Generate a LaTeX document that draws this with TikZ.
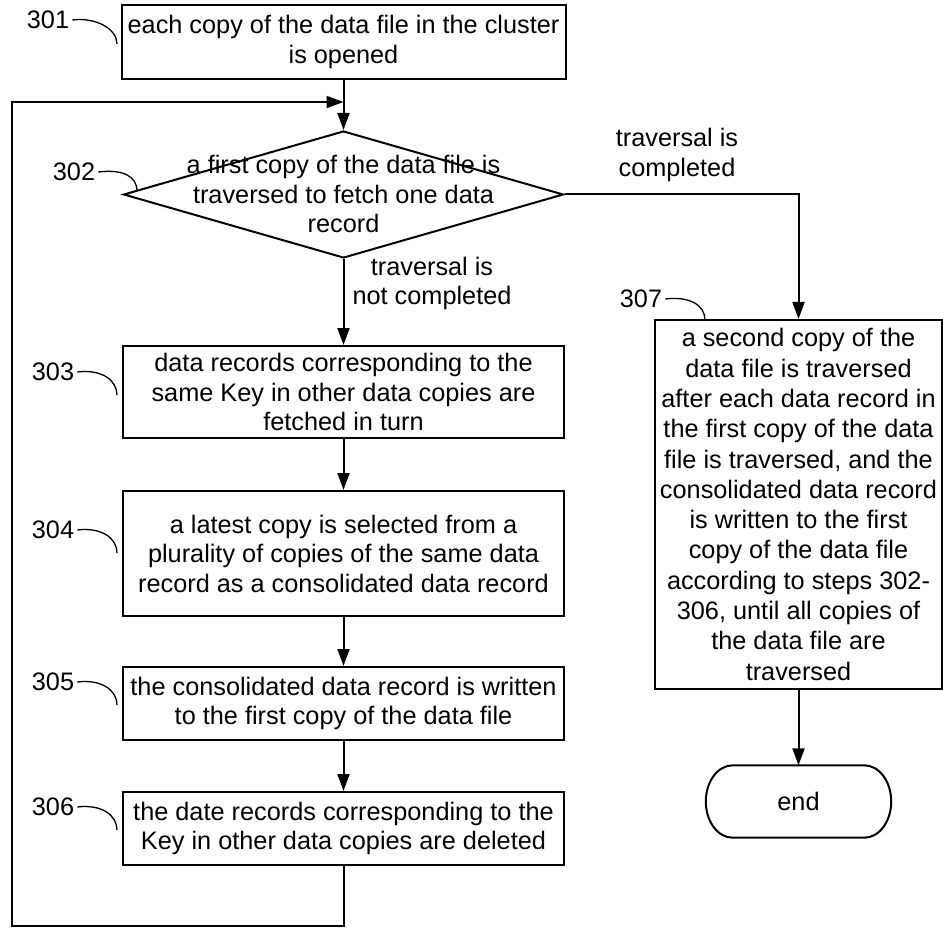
\documentclass[tikz,border=0pt]{standalone}
\usepackage{fontspec}
\setmainfont{Liberation Sans}
\usetikzlibrary{arrows.meta,shapes.geometric}
\begin{document}
\begin{tikzpicture}[x=1pt,y=-1pt,
  every node/.style={font=\fontsize{25.3}{29.5}\selectfont, align=center, inner sep=0pt},
  box/.style={draw, line width=2pt, minimum width=441pt},
  conn/.style={line width=2pt, -{Triangle[length=17pt,width=12pt]}},
  curl/.style={line width=1.3pt}]
\useasboundingbox (0,0) rectangle (943,928);

% process boxes
\node[box, minimum width=444pt, minimum height=74pt] (n301) at (343.5,42)
  {each copy of the data file in the cluster\\is opened};
\node[diamond, draw, line width=2pt, minimum width=440pt, minimum height=127pt] (n302) at (343.5,194.5) {};
\node (t302) at (343.5,194) {a first copy of the data file is\\traversed to fetch one data\\record};
\node[box, minimum height=92pt] (n303) at (343.5,392)
  {data records corresponding to the\\same Key in other data copies are\\fetched in turn};
\node[box, minimum height=125pt] (n304) at (343.5,553.5)
  {a latest copy is selected from a\\plurality of copies of the same data\\record as a consolidated data record};
\node[box, minimum height=73pt] (n305) at (343.5,703.5)
  {the consolidated data record is written\\to the first copy of the data file};
\node[box, minimum height=73pt] (n306) at (343.5,828.5)
  {the date records corresponding to the\\Key in other data copies are deleted};
\node[box, minimum width=287pt, minimum height=369pt, font=\fontsize{25.3}{30.3}\selectfont] (n307) at (798.5,504.5)
  {a second copy of the\\data file is traversed\\after each data record in\\the first copy of the data\\file is traversed, and the\\consolidated data record\\is written to the first\\copy of the data file\\according to steps 302-\\306, until all copies of\\the data file are\\traversed};
\node[minimum width=185pt, minimum height=72pt] (end) at (798.5,801.5) {end};
\draw[line width=2pt]
  ([xshift=27pt]end.north west) -- ([xshift=-27pt]end.north east)
  .. controls +(15,0) and +(0,-20) .. (end.east)
  .. controls +(0,20) and +(15,0) .. ([xshift=-27pt]end.south east)
  -- ([xshift=27pt]end.south west)
  .. controls +(-15,0) and +(0,20) .. (end.west)
  .. controls +(0,-20) and +(-15,0) .. cycle;

% branch labels
\node (lyes) at (677,155) {traversal is\\completed};
\node (lno) at (432,283.5) {traversal is\\not completed};

% step labels
\node (l301) at (48,20) {301};
\node (l302) at (74,172) {302};
\node (l303) at (53,372) {303};
\node (l304) at (53,530) {304};
\node (l305) at (53,682) {305};
\node (l306) at (53,807) {306};
\node (l307) at (641,299) {307};
\coordinate (c301) at (117,44);
\coordinate (c302) at (137,191);
\coordinate (c303) at (117,395);
\coordinate (c304) at (117,553);
\coordinate (c305) at (117,705);
\coordinate (c306) at (117,830);
\coordinate (c307) at (705,320);
\foreach \s in {301,302,303,304,305,306,307}{
  \draw[curl] ([xshift=3pt]l\s.east) .. controls +(24,-3) and +(0,-15) .. (c\s);
}

% connectors
\draw[conn] (n301.south) -- (n302.north);
\draw[conn] (n302.south) -- (n303.north);
\draw[conn] (n303.south) -- (n304.north);
\draw[conn] (n304.south) -- (n305.north);
\draw[conn] (n305.south) -- (n306.north);
\draw[conn] (n302.east) -| (n307.north);
\draw[conn] (n307.south) -- (end.north);
\coordinate (lpbr) at (343.5,926);
\coordinate (lpbl) at (12,926);
\coordinate (lptl) at (12,102);
\coordinate (lptip) at (343.5,102);
\draw[conn] (n306.south) -- (lpbr) -- (lpbl) -- (lptl) -- (lptip);
\end{tikzpicture}
\end{document}
